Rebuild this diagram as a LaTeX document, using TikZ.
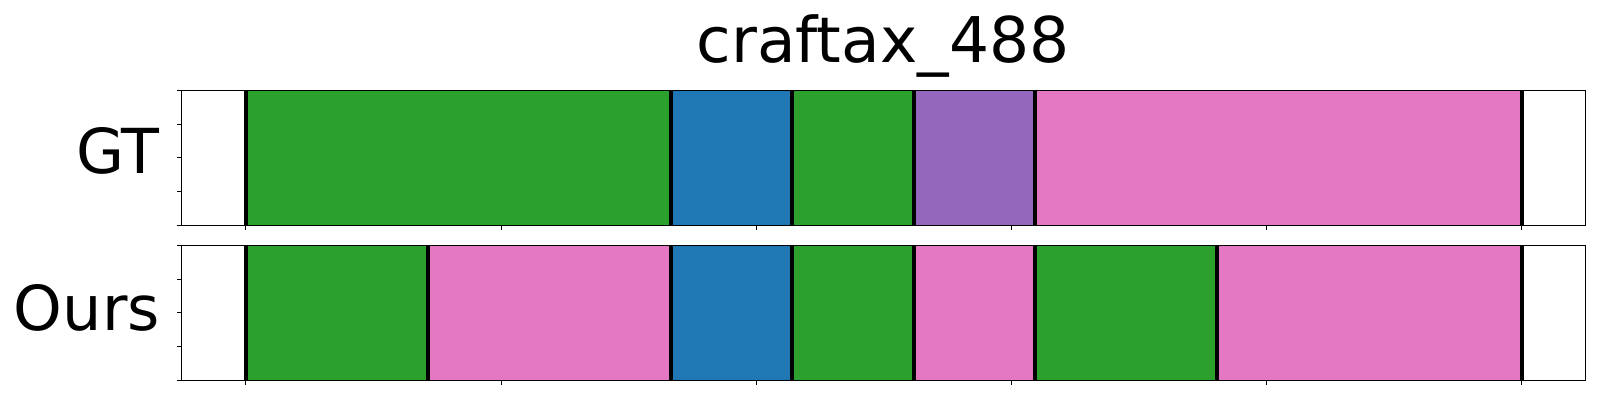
\documentclass[tikz,border=0pt]{standalone}
\usepackage{fontspec}
\setmainfont{DejaVu Sans}
\definecolor{tgreen}{HTML}{2CA02C}
\definecolor{tblue}{HTML}{1F77B4}
\definecolor{tpurple}{HTML}{9467BD}
\definecolor{tpink}{HTML}{E377C2}
\tikzset{
  frame/.style={draw=black,line width=1pt},
  bound/.style={draw=black,line width=4pt},
  tickline/.style={draw=black,line width=0.8pt},
  lbl/.style={inner sep=0pt,anchor=base east,font=\fontsize{62}{62}\selectfont},
  ttl/.style={inner sep=0pt,anchor=base,font=\fontsize{63}{63}\selectfont}
}
\begin{document}
\begin{tikzpicture}[x=1pt,y=-1pt]
\useasboundingbox (0,0) rectangle (1600,400);
\fill[white] (0,0) rectangle (1600,400);
\def\L{181.7}\def\R{1585.7}
% GT axis: 90.3 - 225.3 ; Ours axis: 245.3 - 380.3
% GT segments
\foreach \a/\b/\c in {245.7/671.3/tgreen,671.3/792/tblue,792/914/tgreen,914/1035/tpurple,1035/1521.7/tpink}
  \fill[\c] (\a,90.3) rectangle (\b,225.3);
% Ours segments
\foreach \a/\b/\c in {245.7/428/tgreen,428/671.3/tpink,671.3/792/tblue,792/914/tgreen,914/1035/tpink,1035/1217.3/tgreen,1217.3/1521.7/tpink}
  \fill[\c] (\a,245.3) rectangle (\b,380.3);
% boundaries
\foreach \x in {245.7,671.3,792,914,1035,1521.7}
  \draw[bound] (\x,90.3) -- (\x,225.3);
\foreach \x in {245.7,428,671.3,792,914,1035,1217.3,1521.7}
  \draw[bound] (\x,245.3) -- (\x,380.3);
% frames
\draw[frame] (\L,90.3) rectangle (\R,225.3);
\draw[frame] (\L,245.3) rectangle (\R,380.3);
% x ticks
\foreach \k in {0,...,5} {
  \pgfmathsetmacro{\xx}{245.7+255.2*\k}
  \draw[tickline] (\xx,225.3) -- (\xx,229.8);
  \draw[tickline] (\xx,380.3) -- (\xx,384.8);
}
% y ticks
\foreach \k in {0,...,4} {
  \pgfmathsetmacro{\ya}{90.3+33.75*\k}
  \pgfmathsetmacro{\yb}{245.3+33.75*\k}
  \draw[tickline] (\L,\ya) -- (\L-5,\ya);
  \draw[tickline] (\L,\yb) -- (\L-5,\yb);
}
% labels
\node[ttl] (title) at (883,62) {craftax\_488};
\node[lbl] (gt) at (160,173.3) {GT};
\node[lbl] (ours) at (160,330) {Ours};
\end{tikzpicture}
\end{document}
